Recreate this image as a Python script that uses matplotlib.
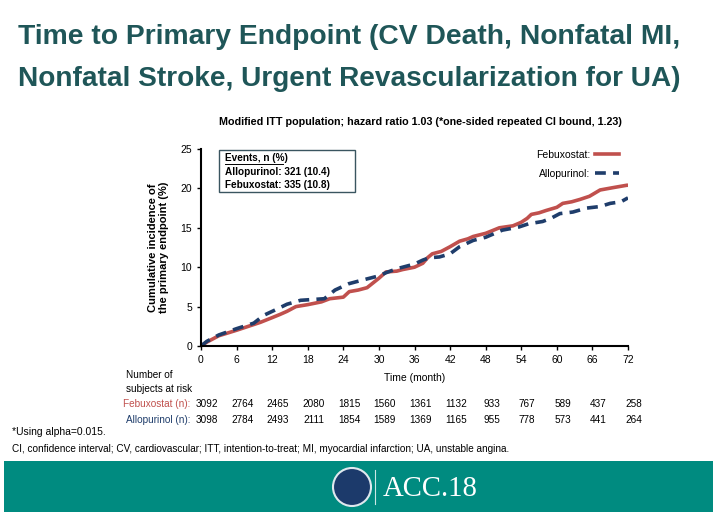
import matplotlib
matplotlib.use('Agg')
import matplotlib.pyplot as plt
from matplotlib.patches import Rectangle, Ellipse
from matplotlib.lines import Line2D

plt.rcParams['font.family'] = ['Liberation Sans', 'DejaVu Sans']

# Dados
febu_t = [0, 1, 3, 6, 8, 10, 12, 13.3, 14.5, 16, 18, 20.3, 21.7, 24, 25, 26.5, 28, 29, 30,
          31.2, 33, 34, 36, 37.4, 38.2, 39, 40.5, 42, 43.6, 45, 45.9, 48, 49, 50.3, 52.6,
          54, 55, 55.7, 57, 58.2, 60, 61, 62.5, 63.9, 65.5, 67.3, 69.5, 71.8, 72]
febu_y = [0, 0.5, 1.3, 2.0, 2.5, 3.0, 3.6, 4.0, 4.4, 5.0, 5.25, 5.6, 6.0, 6.2, 6.9, 7.1, 7.4,
          8.0, 8.6, 9.4, 9.5, 9.7, 10.0, 10.5, 11.2, 11.7, 12.0, 12.6, 13.3, 13.6, 13.9, 14.3,
          14.6, 15.0, 15.25, 15.7, 16.2, 16.7, 16.9, 17.2, 17.6, 18.1, 18.3, 18.6, 19.0, 19.8,
          20.1, 20.4, 20.4]
allo_t = [0, 1, 3, 6, 8.9, 10.6, 12.3, 14.5, 16.8, 20.8, 22.6, 24.9, 27.4, 30, 31.2, 33, 36,
          37.4, 38.5, 40.2, 42, 43.6, 45.9, 48, 50.8, 53.6, 55.2, 57.6, 59, 60.5, 62.7, 65,
          67.3, 69, 70.8, 72]
allo_y = [0, 0.6, 1.4, 2.2, 2.9, 3.9, 4.5, 5.3, 5.8, 6.0, 7.1, 7.9, 8.4, 8.9, 9.3, 9.8, 10.4,
          10.9, 11.2, 11.3, 11.7, 12.6, 13.4, 13.8, 14.7, 15.1, 15.5, 15.8, 16.2, 16.8, 17.0,
          17.5, 17.7, 18.1, 18.3, 18.8]

meses = [0, 6, 12, 18, 24, 30, 36, 42, 48, 54, 60, 66, 72]
risco_febu = [3092, 2764, 2465, 2080, 1815, 1560, 1361, 1132, 933, 767, 589, 437, 258]
risco_allo = [3098, 2784, 2493, 2111, 1854, 1589, 1369, 1165, 955, 778, 573, 441, 264]

VERMELHO = '#c0504d'
AZUL = '#1f3d6b'
TITULO = '#1f5658'
BANNER = '#008b80'

fig = plt.figure(figsize=(7.2, 5.2), dpi=100)
W, H = 720, 520

def fx(px):
    return px / W

def fy(py):
    return 1 - py / H

renderer = fig.canvas.get_renderer()

def texto_ajustado(x, y, s, largura, **kw):
    # ajusta o tamanho da fonte para ocupar a largura desejada (px)
    t = fig.text(x, y, s, **kw)
    w = t.get_window_extent(renderer).width
    t.set_fontsize(t.get_fontsize() * largura / w)
    return t

# Titulo
texto_ajustado(fx(18), fy(37), 'Time to Primary Endpoint (CV Death, Nonfatal MI,', 662,
               fontsize=20, fontweight='bold', color=TITULO, va='center', ha='left')
texto_ajustado(fx(18), fy(79), 'Nonfatal Stroke, Urgent Revascularization for UA)', 662,
               fontsize=20, fontweight='bold', color=TITULO, va='center', ha='left')

texto_ajustado(fx(420), fy(122), 'Modified ITT population; hazard ratio 1.03 (*one-sided repeated CI bound, 1.23)',
               405, fontsize=8, fontweight='bold', ha='center', va='center')

ax = fig.add_axes([fx(201), fy(346), fx(628) - fx(201), fy(149) - fy(346)])
ax.plot(febu_t, febu_y, color=VERMELHO, linewidth=2.6, label='Febuxostat:')
ax.plot(allo_t, allo_y, color=AZUL, linewidth=2.6, linestyle=(0, (3, 2)),
        label='Allopurinol:')
ax.set_xlim(0, 72)
ax.set_ylim(0, 25)
ax.set_xticks(meses)
ax.set_yticks([0, 5, 10, 15, 20, 25])
ax.tick_params(labelsize=7.5, length=3, width=1)
for s in ['top', 'right']:
    ax.spines[s].set_visible(False)
for s in ['left', 'bottom']:
    ax.spines[s].set_linewidth(1.5)
ax.set_xlabel('Time (month)', fontsize=7.5, labelpad=6)
ax.set_ylabel('Cumulative incidence of\nthe primary endpoint (%)', fontsize=8,
              fontweight='bold', labelpad=8)

leg = ax.legend(loc='upper right', bbox_to_anchor=(1.0, 1.045), frameon=False, fontsize=7.5,
                markerfirst=False, handlelength=2.25, labelspacing=0.9, handletextpad=0.5)

# Caixa de eventos
fig.patches.append(Rectangle((fx(219), fy(192)), fx(355) - fx(219), fy(150) - fy(192),
                             transform=fig.transFigure, facecolor='white',
                             edgecolor='#3a5560', linewidth=1))
fig.text(fx(225), fy(158), 'Events, n (%)', fontsize=7.2, fontweight='bold', va='center')
fig.text(fx(225), fy(172), 'Allopurinol: 321 (10.4)', fontsize=7.2, fontweight='bold',
         va='center')
fig.text(fx(225), fy(185), 'Febuxostat: 335 (10.8)', fontsize=7.2, fontweight='bold',
         va='center')
fig.add_artist(Line2D([fx(225), fx(283)], [fy(164), fy(164)], transform=fig.transFigure,
                      color='black', linewidth=0.7))

# Tabela de risco
fig.text(fx(126), fy(382), 'Number of\nsubjects at risk', fontsize=7.2, va='center',
         ha='left', linespacing=1.6)
fig.text(fx(190), fy(404), 'Febuxostat (n):', fontsize=7.2, color=VERMELHO, ha='right',
         va='center')
fig.text(fx(190), fy(420), 'Allopurinol (n):', fontsize=7.2, color=AZUL, ha='right',
         va='center')
for m, a, b in zip(meses, risco_febu, risco_allo):
    xp = ax.transData.transform((m, 0))[0] / fig.dpi / fig.get_figwidth() + fx(6)
    fig.text(xp, fy(404), str(a), fontsize=7.2, ha='center', va='center')
    fig.text(xp, fy(420), str(b), fontsize=7.2, ha='center', va='center')

# Notas
fig.text(fx(12), fy(432), '*Using alpha=0.015.', fontsize=7.5, va='center')
texto_ajustado(fx(12), fy(449), 'CI, confidence interval; CV, cardiovascular; ITT, intention-to-treat; '
               'MI, myocardial infarction; UA, unstable angina.', 496, fontsize=7.5, va='center')

# Faixa inferior
fig.patches.append(Rectangle((fx(4), fy(512)), fx(709), fy(461) - fy(512),
                             transform=fig.transFigure, facecolor=BANNER, edgecolor='none'))
fig.patches.append(Ellipse((fx(352), fy(487)), 38 / W, 38 / H, transform=fig.transFigure,
                           facecolor='#1c3a6b', edgecolor='#dfe8ee', linewidth=1.5))
fig.add_artist(Line2D([fx(375), fx(375)], [fy(470), fy(504)], transform=fig.transFigure,
                      color='white', linewidth=0.8, alpha=0.8))
texto_ajustado(fx(383), fy(489), 'ACC.18', 95, fontsize=22, color='white', va='center',
               ha='left', family=['Liberation Serif', 'DejaVu Serif'])

fig.savefig('out.png', dpi=100)
